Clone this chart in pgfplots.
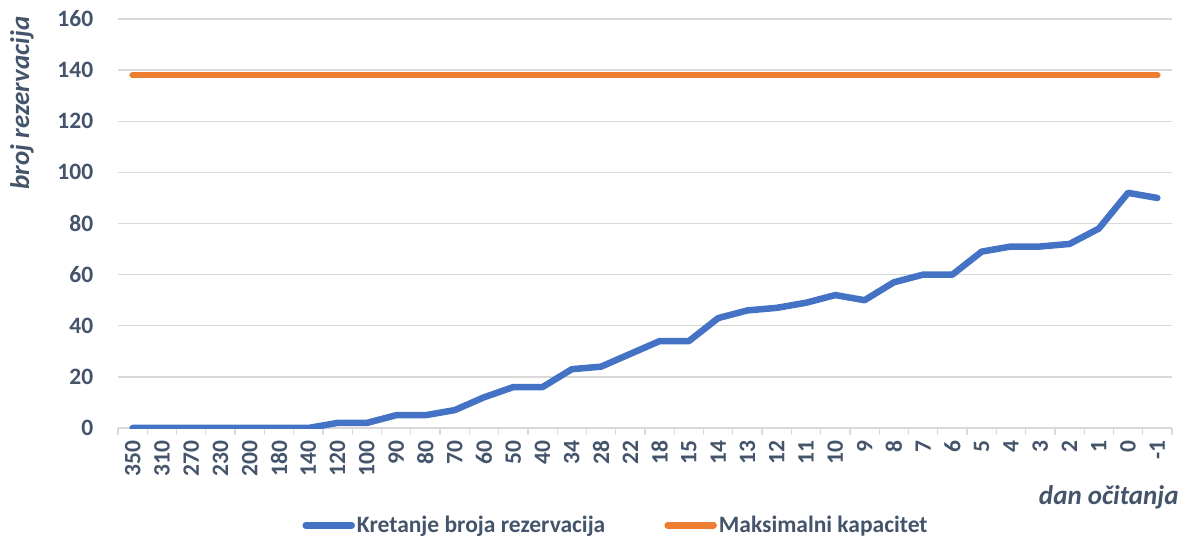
\documentclass[border=0pt]{standalone}
\usepackage{pgfplots}
\pgfplotsset{compat=1.18}
\usepackage{fontspec}
\setmainfont{Carlito}
\definecolor{blueline}{HTML}{4472C4}
\definecolor{orangeline}{HTML}{ED7D31}
\definecolor{textcol}{HTML}{44546A}
\definecolor{gridcol}{HTML}{D9D9D9}
\newcommand{\cfont}{\fontsize{23.5bp}{28bp}\selectfont\bfseries}
\newcommand{\tfont}{\fontsize{27bp}{32bp}\selectfont\bfseries\itshape}
\begin{document}
\begin{tikzpicture}
\useasboundingbox (0,0) rectangle (1191bp,541bp);
\begin{axis}[
  at={(118bp,113bp)}, anchor=south west,
  scale only axis, width=1054bp, height=409bp,
  xmin=-0.5, xmax=35.5, ymin=0, ymax=160,
  xtick={0,...,35},
  xticklabels={350,310,270,230,200,180,140,120,100,90,80,70,60,50,40,34,28,22,18,15,14,13,12,11,10,9,8,7,6,5,4,3,2,1,0,-1},
  minor xtick={-0.5,0.5,...,35.5},
  ytick={0,20,...,160},
  axis x line*=bottom, axis y line*=left,
  x axis line style={draw=gridcol, line width=1.3bp},
  y axis line style={draw=none},
  ymajorgrids, grid style={draw=gridcol, line width=1.3bp},
  major x tick style={draw=none}, major y tick style={draw=none},
  minor x tick style={draw=gridcol, line width=1.3bp},
  tick align=outside, minor tick length=7bp,
  /pgf/number format/assume math mode=true,
  tick label style={font=\cfont, text=textcol},
  xticklabel style={rotate=90, anchor=east, xshift=-5bp},
  yticklabel style={xshift=-17bp},
  legend style={draw=none, fill=none, font=\cfont, text=textcol,
    inner sep=0pt, nodes={inner ysep=1bp},
    at={(0.4725,-0.238)}, anchor=center,
    /tikz/every even column/.append style={column sep=57bp}},
  legend columns=2,
  legend image code/.code={\draw[#1,line cap=round] (0bp,0bp) -- (46bp,0bp);},
]
\addplot[blueline, line width=6.5bp, line cap=round, line join=round] coordinates {
(0,0) (1,0) (2,0) (3,0) (4,0) (5,0) (6,0) (7,2) (8,2) (9,5) (10,5) (11,7) (12,12) (13,16) (14,16) (15,23) (16,24) (17,29) (18,34) (19,34) (20,43) (21,46) (22,47) (23,49) (24,52) (25,50) (26,57) (27,60) (28,60) (29,69) (30,71) (31,71) (32,72) (33,78) (34,92) (35,90)
};
\addlegendentry{Kretanje broja rezervacija}
\addplot[orangeline, line width=6.5bp, line cap=round, line join=round] coordinates {
(0,138) (1,138) (2,138) (3,138) (4,138) (5,138) (6,138) (7,138) (8,138) (9,138) (10,138) (11,138) (12,138) (13,138) (14,138) (15,138) (16,138) (17,138) (18,138) (19,138) (20,138) (21,138) (22,138) (23,138) (24,138) (25,138) (26,138) (27,138) (28,138) (29,138) (30,138) (31,138) (32,138) (33,138) (34,138) (35,138)
};
\addlegendentry{Maksimalni kapacitet}
\end{axis}
\node[rotate=90, font=\tfont, text=textcol] at (22bp,438bp) {broj rezervacija};
\node[anchor=east, font=\tfont, text=textcol] at (1182bp,44bp) {dan očitanja};
\end{tikzpicture}
\end{document}
